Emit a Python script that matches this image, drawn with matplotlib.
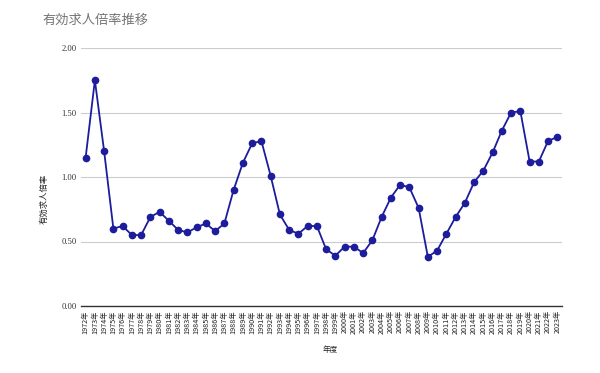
import numpy as np
import matplotlib
matplotlib.use('Agg')
import matplotlib.pyplot as plt

plt.rcParams['font.family'] = ['Noto Sans CJK JP', 'DejaVu Sans']

years = [f'{y}年' for y in range(1972, 2024)]
ratio = [1.15, 1.75, 1.20, 0.60, 0.62, 0.55, 0.55, 0.69, 0.73, 0.66,
         0.59, 0.57, 0.61, 0.64, 0.58, 0.64, 0.90, 1.11, 1.26, 1.28,
         1.01, 0.71, 0.59, 0.56, 0.62, 0.62, 0.44, 0.39, 0.46, 0.46,
         0.41, 0.51, 0.69, 0.84, 0.94, 0.92, 0.76, 0.38, 0.43, 0.56,
         0.69, 0.80, 0.96, 1.05, 1.19, 1.36, 1.50, 1.51, 1.12, 1.12,
         1.28, 1.31]
yticks = [0.0, 0.5, 1.0, 1.5, 2.0]

fig = plt.figure(figsize=(6, 3.73), dpi=100)
p = fig.add_axes([81 / 600, 1 - 306 / 373, 481 / 600, 258 / 373])

x = np.arange(len(years))
p.plot(x, ratio, color='#1c1c9c', lw=1.3, marker='o', ms=4.5, zorder=3)

p.set_xlim(-0.5, len(years) - 0.5)
p.set_ylim(0, 2.0)
p.set_yticks(yticks)
p.set_yticklabels([f'{v:.2f}' for v in yticks], family='Liberation Serif',
                  fontsize=6.2, color='#333333')
p.set_xticks(x)
p.set_xticklabels(years, rotation=90, fontsize=5.2, color='#222222')
p.tick_params(length=0, pad=3)
p.grid(axis='y', color='#cccccc', lw=0.8)
p.set_axisbelow(True)
for s in ['left', 'right', 'top']:
    p.spines[s].set_visible(False)
p.spines['bottom'].set_color('#333333')
p.spines['bottom'].set_linewidth(1.0)
p.spines['bottom'].set_zorder(4)

fig.text(42 / 600, 1 - 20 / 373, '有効求人倍率推移', fontsize=9.5, color='#757575',
         va='center', ha='left')
fig.text(44 / 600, 1 - 199 / 373, '有効求人倍率', fontsize=6, color='#222222',
         rotation=90, va='center', ha='center')
fig.text(330 / 600, 1 - 350 / 373, '年度', fontsize=5.5, color='#222222',
         va='center', ha='center')

fig.savefig('out.png', dpi=100)
